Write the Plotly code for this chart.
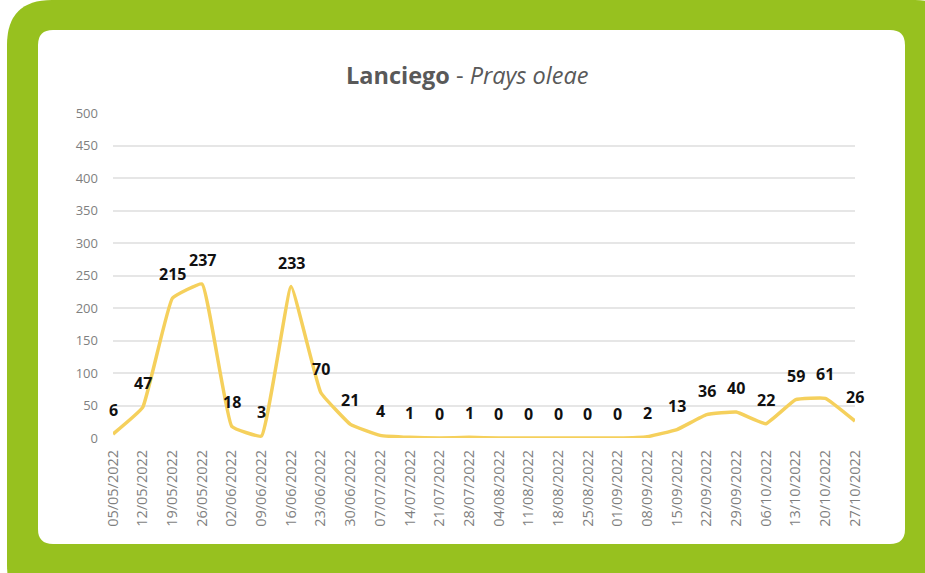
import plotly.graph_objects as go

dates = ["05/05/2022", "12/05/2022", "19/05/2022", "26/05/2022", "02/06/2022", "09/06/2022",
         "16/06/2022", "23/06/2022", "30/06/2022", "07/07/2022", "14/07/2022", "21/07/2022",
         "28/07/2022", "04/08/2022", "11/08/2022", "18/08/2022", "25/08/2022", "01/09/2022",
         "08/09/2022", "15/09/2022", "22/09/2022", "29/09/2022", "06/10/2022", "13/10/2022",
         "20/10/2022", "27/10/2022"]
captures = [6, 47, 215, 237, 18, 3, 233, 70, 21, 4, 1, 0, 1, 0, 0, 0, 0, 0, 2, 13, 36, 40, 22, 59, 61, 26]
y_ticks = [0, 50, 100, 150, 200, 250, 300, 350, 400, 450, 500]

W, H = 925, 573
def px(x):
    return x / W
def py(y):
    return 1 - y / H

def rounded_rect(x0, y0, x1, y1, r):
    p = f"M {px(x0 + r)},{py(y0)} L {px(x1 - r)},{py(y0)} Q {px(x1)},{py(y0)} {px(x1)},{py(y0 + r)} "
    p += f"L {px(x1)},{py(y1 - r)} Q {px(x1)},{py(y1)} {px(x1 - r)},{py(y1)} "
    p += f"L {px(x0 + r)},{py(y1)} Q {px(x0)},{py(y1)} {px(x0)},{py(y1 - r)} "
    p += f"L {px(x0)},{py(y0 + r)} Q {px(x0)},{py(y0)} {px(x0 + r)},{py(y0)} Z"
    return p

fig = go.Figure()
fig.add_trace(go.Scatter(
    x=dates, y=captures,
    mode="lines",
    line=dict(color="#F5D05C", width=3.5, shape="spline", smoothing=0.3),
    hoverinfo="x+y",
))

annotations = [
    dict(text="<b>Lanciego</b> - <i>Prays oleae</i>", xref="paper", yref="paper",
         x=px(467), y=py(75), xanchor="center", yanchor="middle", showarrow=False,
         font=dict(family="Open Sans", size=23.5, color="#595959")),
]
for d, v in zip(dates, captures):
    annotations.append(dict(
        x=d, y=v, xref="x", yref="y", text=f"<b>{v}</b>", showarrow=False,
        xanchor="center", yanchor="middle", yshift=24,
        font=dict(family="Open Sans", size=16, color="#111111"),
    ))

fig.update_layout(
    template="none",
    width=W, height=H,
    margin=dict(l=0, r=0, t=0, b=0, pad=0, autoexpand=False),
    paper_bgcolor="white",
    plot_bgcolor="rgba(0,0,0,0)",
    showlegend=False,
    shapes=[
        dict(type="path", xref="paper", yref="paper", layer="below",
             path=rounded_rect(7, 0, 960, 610, 45), fillcolor="#97C11F", line=dict(width=0)),
        dict(type="path", xref="paper", yref="paper", layer="below",
             path=rounded_rect(38, 30, 905, 544, 15), fillcolor="white", line=dict(width=0)),
    ],
    annotations=annotations,
    xaxis=dict(
        type="category",
        automargin=False,
        domain=[px(113), px(855)],
        range=[0, 25],
        tickangle=-90,
        tickfont=dict(family="Open Sans", size=14.5, color="#7F7F7F"),
        showgrid=False,
        zeroline=False,
        showline=False,
        ticks="",
        ticklabelstandoff=8,
    ),
    yaxis=dict(
        automargin=False,
        domain=[py(438), py(113)],
        range=[0, 500],
        tickvals=y_ticks,
        tickfont=dict(family="Open Sans", size=13, color="#7F7F7F"),
        gridcolor="#E6E6E6",
        gridwidth=2,
        zeroline=False,
        showline=False,
        ticks="",
        ticklabelstandoff=14,
    ),
)

fig.write_html("out.html", config={"displayModeBar": False},
               post_script="document.body.style.margin='0px';")
